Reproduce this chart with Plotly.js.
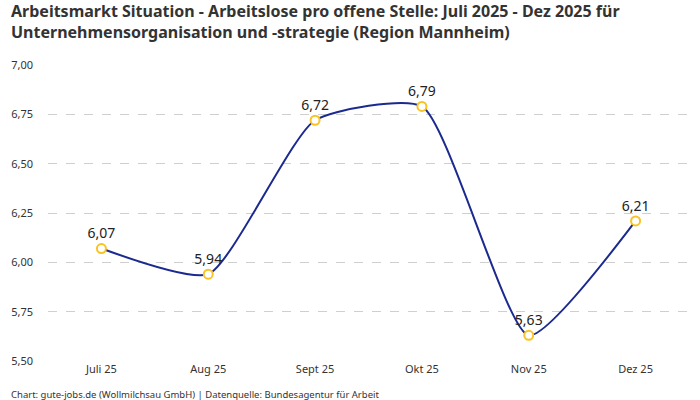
<!DOCTYPE html>
<html>
<head>
<meta charset="utf-8">
<script src="https://cdn.plot.ly/plotly-3.0.1.min.js"></script>
<style>
  body { margin: 0; background: #fff; }
  #chart { width: 700px; height: 400px; }
</style>
</head>
<body>
<div id="chart"></div>
<script>
// monthly values
var months = ['Juli 25', 'Aug 25', 'Sept 25', 'Okt 25', 'Nov 25', 'Dez 25'];
var ratio = [6.07, 5.94, 6.72, 6.79, 5.63, 6.21];
var y_ticks = [5.5, 5.75, 6.0, 6.25, 6.5, 6.75, 7.0];

var title_text = 'Arbeitsmarkt Situation - Arbeitslose pro offene Stelle: Juli 2025 - Dez 2025 für<br>Unternehmensorganisation und -strategie (Region Mannheim)';
var source_text = 'Chart: gute-jobs.de (Wollmilchsau GmbH) | Datenquelle: Bundesagentur für Arbeit';

var font_name = '"Noto Sans", "Open Sans", sans-serif';

var trace_1 = {
  x: months,
  y: ratio,
  type: 'scatter',
  mode: 'lines+markers+text',
  line: {color: '#1b2a8f', width: 2, shape: 'spline', smoothing: 0.55},
  marker: {size: 9, color: '#ffffff', line: {color: '#f7c325', width: 2}},
  texttemplate: '%{y:.2f}',
  textposition: 'top center',
  textfont: {size: 14, color: '#222', family: font_name},
  cliponaxis: false
};

var layout = {
  width: 700,
  height: 400,
  margin: {l: 48, r: 11, t: 65, b: 39},
  paper_bgcolor: '#fff',
  plot_bgcolor: '#fff',
  separators: ',.',
  font: {family: font_name, color: '#333'},
  showlegend: false,
  hovermode: false,
  xaxis: {
    type: 'category',
    range: [-0.5, 5.5],
    showgrid: false,
    zeroline: false,
    showline: false,
    ticks: '',
    tickfont: {size: 11, color: '#333'}
  },
  yaxis: {
    range: [5.5, 7.0],
    tickvals: y_ticks,
    tickformat: '.2f',
    showgrid: true,
    gridcolor: '#cfcfcf',
    griddash: 'dash',
    gridwidth: 1,
    zeroline: false,
    showline: false,
    ticks: '',
    ticklabelstandoff: 14,
    tickfont: {size: 11, color: '#333'}
  },
  annotations: [{
    // title, as a left-aligned two-line annotation above the plot
    text: '<b>' + title_text.replace('<br>', '</b><br><b>') + '</b>',
    xref: 'paper', yref: 'paper',
    x: -0.061, xanchor: 'left',
    y: 1.226, yanchor: 'top',
    align: 'left',
    showarrow: false,
    font: {size: 16, color: '#333'}
  }, {
    text: source_text,
    xref: 'paper', yref: 'paper',
    x: -0.061, xanchor: 'left',
    y: -0.085, yanchor: 'top',
    showarrow: false,
    font: {size: 9.5, color: '#333'}
  }]
};

Plotly.newPlot('chart', [trace_1], layout, {displayModeBar: false, staticPlot: true});
</script>
</body>
</html>
